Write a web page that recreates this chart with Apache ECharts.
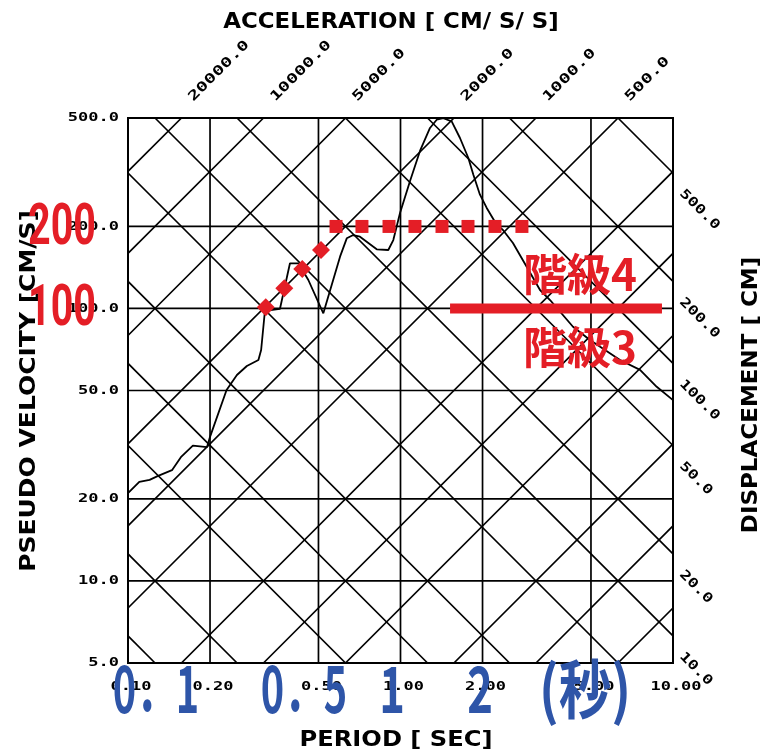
<!DOCTYPE html>
<html><head><meta charset="utf-8">
<script src="https://cdn.jsdelivr.net/npm/echarts@6/dist/echarts.min.js"></script>
<style>html,body{margin:0;padding:0;background:#fff}#c{width:776px;height:754px}</style>
</head><body><div id="c"></div>
<script>
// ---- data ----
const periodTicks = [0.1, 0.2, 0.5, 1, 2, 5, 10];
const periodLabels = ["0.10", "0.20", "0.50", "1.00", "2.00", "5.00", "10.00"];
const velocityTicks = [500, 200, 100, 50, 20, 10, 5];
const velocityLabels = ["500.0", "200.0", "100.0", "50.0", "20.0", "10.0", "5.0"];
const accelLines = [5, 10, 20, 50, 100, 200, 500, 1000, 2000, 5000, 10000, 20000];
const accelLabeled = [20000, 10000, 5000, 2000, 1000, 500];
const accelLabels = ["20000.0", "10000.0", "5000.0", "2000.0", "1000.0", "500.0"];
const dispLines = [0.1, 0.2, 0.5, 1, 2, 5, 10, 20, 50, 100, 200, 500];
const dispLabeled = [500, 200, 100, 50, 20, 10];
const dispLabels = ["500.0", "200.0", "100.0", "50.0", "20.0", "10.0"];

const specPeriod = [0.100,0.110,0.120,0.129,0.145,0.157,0.173,0.195,0.200,0.230,0.251,0.273,0.301,0.308,0.318,0.361,0.393,0.422,0.459,0.521,0.600,0.635,0.671,0.710,0.818,0.902,0.941,0.996,1.084,1.179,1.283,1.358,1.436,1.541,1.653,1.774,1.851,1.957,2.072,2.254,2.377,2.586,2.904,3.251,3.538,4.295,4.959,6.392,7.568,8.715,10.0];
const specVelocity = [21.0,23.1,23.5,24.3,25.5,28.6,31.4,31.0,33.8,50.2,57.0,61.5,64.7,70.4,97.9,99.6,146.5,146.5,127.2,96.0,154.9,180.9,186.0,183.4,164.9,163.9,178.3,224.0,293.6,378.5,459.6,492.9,499,486.3,422.3,356.6,309.7,261.5,233.8,203.0,194.1,173.9,142.3,116.9,107.4,85.7,76.6,64.7,59.5,51.6,46.1];

const rampPeriod = [0.3203, 0.3746, 0.4360, 0.5107];
const rampVelocity = [101, 118.6, 139.6, 163.9];
const plateauPeriod = [0.580, 0.722, 0.9075, 1.130, 1.420, 1.769, 2.222, 2.79];
const plateauVelocity = 200;
const levelLinePeriod = [1.52, 9.11];
const levelLineVelocity = 100;

const redLabels = ["200", "100"];
const levelTexts = ["階級4", "階級3"];
const blueTexts = ["0．1", "0．5", "1", "2", "(秒)"];

// ---- build ----
const TMIN = 0.1, TMAX = 10, VMIN = 5, VMAX = 500;
const TWO_PI = 2 * Math.PI;
const RED = '#E41E26', BLUE = '#2E55A8';

const gridStyle = { color: '#000', width: 1.7 };
function seg(p1, p2, style) {
  return { type: 'line', data: [p1, p2], showSymbol: false, symbol: 'none', silent: true,
    lineStyle: style || gridStyle, z: 2, animation: false };
}
const series = [];
periodTicks.slice(1, -1).forEach(t => series.push(seg([t, VMIN], [t, VMAX])));
velocityTicks.slice(1, -1).forEach(v => series.push(seg([TMIN, v], [TMAX, v])));
accelLines.forEach(a => {
  const t1 = Math.max(TMIN, VMIN * TWO_PI / a), t2 = Math.min(TMAX, VMAX * TWO_PI / a);
  if (t2 > t1) series.push(seg([t1, a * t1 / TWO_PI], [t2, a * t2 / TWO_PI]));
});
dispLines.forEach(d => {
  const t1 = Math.max(TMIN, TWO_PI * d / VMAX), t2 = Math.min(TMAX, TWO_PI * d / VMIN);
  if (t2 > t1) series.push(seg([t1, TWO_PI * d / t1], [t2, TWO_PI * d / t2]));
});
series.push({ type: 'line', data: specPeriod.map((t, i) => [t, specVelocity[i]]), showSymbol: false,
  symbol: 'none', lineStyle: { color: '#000', width: 1.8 }, z: 3, animation: false });
series.push({ type: 'scatter', data: rampPeriod.map((t, i) => [t, rampVelocity[i]]), symbol: 'diamond',
  symbolSize: 18, itemStyle: { color: RED, opacity: 1 }, z: 5, animation: false });
series.push({ type: 'scatter', data: plateauPeriod.map(t => [t, plateauVelocity]), symbol: 'rect',
  symbolSize: 13, itemStyle: { color: RED, opacity: 1 }, z: 5, animation: false });
series.push({ type: 'line', data: levelLinePeriod.map(t => [t, levelLineVelocity]), showSymbol: false,
  symbol: 'none', lineStyle: { color: RED, width: 10, cap: 'butt' }, z: 5, animation: false });

const chart = echarts.init(document.getElementById('c'), null, { renderer: 'canvas' });
chart.setOption({
  animation: false,
  backgroundColor: '#fff',
  grid: { left: 128, top: 118, width: 545, height: 545, show: true, borderColor: '#000', borderWidth: 2, backgroundColor: 'transparent', z: 4 },
  xAxis: { type: 'log', logBase: 10, min: TMIN, max: TMAX, axisLine: { show: false }, axisTick: { show: false },
    axisLabel: { show: false }, splitLine: { show: false } },
  yAxis: { type: 'log', logBase: 10, min: VMIN, max: VMAX, axisLine: { show: false }, axisTick: { show: false },
    axisLabel: { show: false }, splitLine: { show: false } },
  series
});

const px = (t, v) => chart.convertToPixel({ gridIndex: 0 }, [t, v]);
function txt(str, x, y, o) {
  return { type: 'text', x, y, rotation: o.rotation || 0, scaleX: o.scaleX || 1, scaleY: o.scaleY || 1,
    silent: true, z: o.z || 10,
    style: { text: str, fill: o.fill || '#000', fontFamily: o.family || 'DejaVu Sans', fontWeight: o.weight || 'bold',
      fontSize: o.size || 14, align: o.align || 'center', verticalAlign: o.valign || 'middle' } };
}
const mono = { family: 'DejaVu Sans Mono', size: 17, scaleY: 0.77 };
const g = [];
velocityTicks.forEach((v, i) => {
  g.push(txt(velocityLabels[i], 119, px(TMIN, v)[1], Object.assign({ align: 'right' }, mono)));
});
periodTicks.forEach((t, i) => {
  g.push(txt(periodLabels[i], px(t, VMIN)[0] + 3, 687, mono));
});
accelLabeled.forEach((a, i) => {
  const x = px(VMAX * TWO_PI / a, VMAX)[0];
  g.push(txt(accelLabels[i], x + 14, 104, { family: 'DejaVu Sans Mono', size: 19, scaleY: 0.7,
    rotation: Math.PI / 4, align: 'left', valign: 'bottom' }));
});
dispLabeled.forEach((d, i) => {
  const y = px(TMAX, TWO_PI * d / TMAX)[1];
  g.push(txt(dispLabels[i], 686, y + 14, { family: 'DejaVu Sans Mono', size: 17, scaleY: 0.77,
    rotation: -Math.PI / 4, align: 'left', valign: 'top' }));
});
g.push(txt('ACCELERATION [ CM/ S/ S]', 391, 23, { size: 21, scaleX: 1.09 }));
g.push(txt('PERIOD [ SEC]', 396, 741, { size: 21, scaleX: 1.15 }));
g.push(txt('PSEUDO VELOCITY [CM/S]', 30, 391, { size: 21, scaleX: 1.19, rotation: Math.PI / 2 }));
g.push(txt('DISPLACEMENT [ CM]', 752, 395, { size: 21, scaleX: 1.095, rotation: Math.PI / 2 }));
const redY = [229, 310];
redLabels.forEach((s, i) => g.push(txt(s, 62, redY[i], { family: 'Roboto', size: 58, scaleX: 0.68, fill: RED, z: 20 })));
const lvlY = [274, 347];
levelTexts.forEach((s, i) => g.push(txt(s, 580, lvlY[i], { family: 'Noto Sans CJK JP', size: 44, fill: RED, z: 20 })));
const blueX = [156, 304, 392, 480, 585];
const blueScale = [0.62, 0.62, 0.68, 0.68, 0.82];
blueTexts.forEach((s, i) => g.push(txt(s, blueX[i], 689, { family: 'Noto Sans CJK JP', size: 64, scaleX: blueScale[i], fill: BLUE, z: 20 })));

chart.setOption({ graphic: g });
</script>
</body></html>
